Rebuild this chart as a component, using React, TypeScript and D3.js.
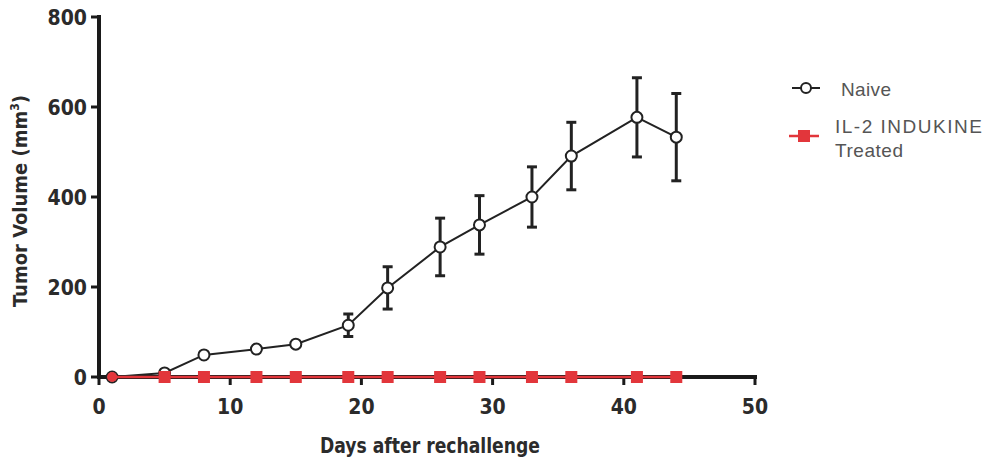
import React, { useEffect, useRef } from "react";
import * as d3 from "d3";

const days = [1, 5, 8, 12, 15, 19, 22, 26, 29, 33, 36, 41, 44];
const naiveMean = [0, 9, 49, 62, 73, 115, 198, 289, 338, 400, 491, 577, 533];
const naiveErr = [0, 0, 0, 0, 0, 25, 47, 64, 65, 67, 75, 88, 97];
const treatedMean = [0, 0, 0, 0, 0, 0, 0, 0, 0, 0, 0, 0, 0];
const xTicks = [0, 10, 20, 30, 40, 50];
const yTicks = [0, 200, 400, 600, 800];

const W = 987;
const H = 463;
const RED = "#e2363b";
const INK = "#2b2b2b";
const COND = "'DejaVu Sans Condensed', 'DejaVu Sans', sans-serif";
const LEG = "'Liberation Sans', Arial, sans-serif";

export default function App() {
  const ref = useRef<SVGSVGElement>(null);

  useEffect(() => {
    if (!ref.current) return;
    const svg = d3.select(ref.current);
    svg.selectAll("*").remove();

    const x = d3.scaleLinear().domain([0, 50]).range([99, 755]);
    const y = d3.scaleLinear().domain([0, 800]).range([377, 17]);

    // axes
    const axes = svg.append("g").attr("stroke", "#1a1a1a");
    axes.append("line").attr("x1", x(0)).attr("x2", x(0)).attr("y1", y(800) - 2).attr("y2", y(0) + 2).attr("stroke-width", 4);
    axes.append("line").attr("x1", x(0) - 2).attr("x2", x(50) + 2).attr("y1", y(0)).attr("y2", y(0)).attr("stroke-width", 4);

    yTicks.forEach((t) => {
      axes.append("line").attr("x1", x(0) - 8).attr("x2", x(0)).attr("y1", y(t)).attr("y2", y(t)).attr("stroke-width", 3);
      svg.append("text").attr("x", x(0) - 12).attr("y", y(t) + 8)
        .attr("text-anchor", "end").attr("font-family", COND).attr("font-weight", "bold")
        .attr("font-size", 21).attr("fill", INK).text(t);
    });
    xTicks.forEach((t) => {
      axes.append("line").attr("x1", x(t)).attr("x2", x(t)).attr("y1", y(0)).attr("y2", y(0) + 8).attr("stroke-width", 3);
      svg.append("text").attr("x", x(t)).attr("y", 414)
        .attr("text-anchor", "middle").attr("font-family", COND).attr("font-weight", "bold")
        .attr("font-size", 21).attr("fill", INK).text(t);
    });

    svg.append("text").attr("x", 430).attr("y", 453).attr("text-anchor", "middle")
      .attr("font-family", COND).attr("font-weight", "bold").attr("font-size", 21).attr("fill", INK)
      .attr("textLength", 220).attr("lengthAdjust", "spacingAndGlyphs")
      .text("Days after rechallenge");

    const yl = svg.append("text").attr("transform", "translate(27,201) rotate(-90)").attr("text-anchor", "middle")
      .attr("font-family", COND).attr("font-weight", "bold").attr("font-size", 20).attr("fill", INK);
    yl.append("tspan").text("Tumor Volume (mm");
    yl.append("tspan").attr("font-size", 12).attr("dy", -8).text("3");
    yl.append("tspan").attr("dy", 8).text(")");

    // naive series
    const line = d3.line<number>().x((_, i) => x(days[i])).y((d) => y(d));
    svg.append("path").datum(naiveMean).attr("d", line).attr("fill", "none").attr("stroke", "#222").attr("stroke-width", 2);

    const err = svg.append("g").attr("stroke", "#222").attr("stroke-width", 3);
    naiveMean.forEach((m, i) => {
      const e = naiveErr[i];
      if (!e) return;
      const cx = x(days[i]);
      err.append("line").attr("x1", cx).attr("x2", cx).attr("y1", y(m + e)).attr("y2", y(m - e));
      err.append("line").attr("x1", cx - 5).attr("x2", cx + 5).attr("y1", y(m + e)).attr("y2", y(m + e));
      err.append("line").attr("x1", cx - 5).attr("x2", cx + 5).attr("y1", y(m - e)).attr("y2", y(m - e));
    });
    svg.append("g").selectAll("circle").data(naiveMean).join("circle")
      .attr("cx", (_, i) => x(days[i])).attr("cy", (d) => y(d)).attr("r", 5.5)
      .attr("fill", "white").attr("stroke", "#222").attr("stroke-width", 2);

    // treated series
    svg.append("path").datum(treatedMean).attr("d", line).attr("fill", "none").attr("stroke", RED).attr("stroke-width", 2.5);
    svg.append("g").selectAll("rect").data(treatedMean.slice(1)).join("rect")
      .attr("x", (_, i) => x(days[i + 1]) - 6).attr("y", (d) => y(d) - 6)
      .attr("width", 12).attr("height", 12).attr("fill", RED);
    svg.append("circle").attr("cx", x(days[0])).attr("cy", y(treatedMean[0])).attr("r", 5).attr("fill", RED);

    // legend
    const lg = svg.append("g");
    lg.append("line").attr("x1", 792).attr("x2", 820).attr("y1", 88).attr("y2", 88).attr("stroke", "#222").attr("stroke-width", 2);
    lg.append("circle").attr("cx", 806).attr("cy", 88).attr("r", 5).attr("fill", "white").attr("stroke", "#222").attr("stroke-width", 2);
    lg.append("text").attr("x", 841).attr("y", 96).attr("font-family", LEG).attr("font-size", 19).attr("fill", "#555")
      .attr("textLength", 50).text("Naive");

    lg.append("line").attr("x1", 789).attr("x2", 819).attr("y1", 136).attr("y2", 136).attr("stroke", RED).attr("stroke-width", 2.5);
    lg.append("rect").attr("x", 798).attr("y", 130).attr("width", 12).attr("height", 12).attr("fill", RED);
    lg.append("text").attr("x", 835).attr("y", 133).attr("font-family", LEG).attr("font-size", 19).attr("fill", "#555")
      .attr("textLength", 147).text("IL-2 INDUKINE");
    lg.append("text").attr("x", 835).attr("y", 157).attr("font-family", LEG).attr("font-size", 19).attr("fill", "#555")
      .attr("textLength", 68).text("Treated");
  }, []);

  return (
    <svg ref={ref} width={W} height={H} style={{ position: "absolute", left: 0, top: 0, background: "white" }} />
  );
}
